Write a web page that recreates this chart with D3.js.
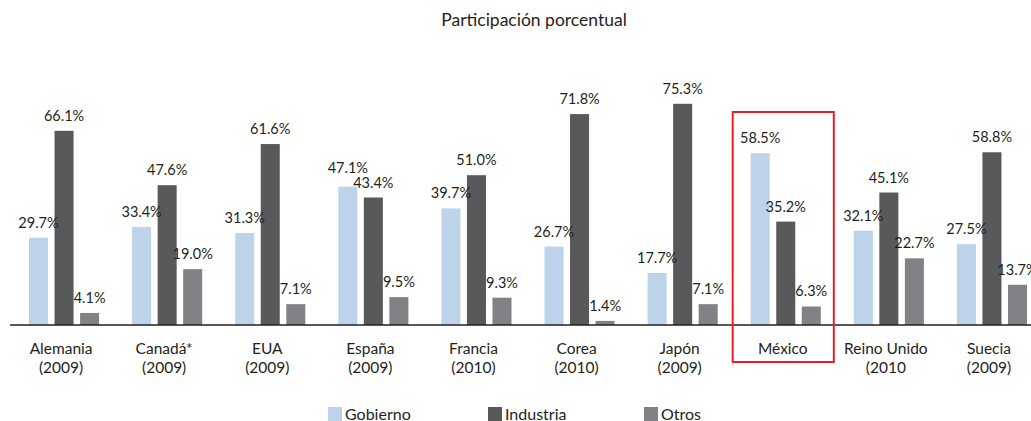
<!DOCTYPE html>
<html>
<head>
<meta charset="utf-8">
<script src="https://cdn.jsdelivr.net/npm/d3@7/dist/d3.min.js"></script>
<style>
  html, body { margin: 0; padding: 0; background: #fff; }
  svg { display: block; font-family: "Lato", "Noto Sans", sans-serif; }
</style>
</head>
<body>
<svg id="chart" width="1031" height="421"></svg>
<script>
// Participación porcentual del gasto en I+D por sector de financiamiento
const countries = ["Alemania", "Canadá*", "EUA", "España", "Francia", "Corea", "Japón", "México", "Reino Unido", "Suecia"];
const years = ["(2009)", "(2009)", "(2009)", "(2009)", "(2010)", "(2010)", "(2009)", "", "(2010", "(2009)"];
const series = ["Gobierno", "Industria", "Otros"];
const gobierno = [29.7, 33.4, 31.3, 47.1, 39.7, 26.7, 17.7, 58.5, 32.1, 27.5];
const industria = [66.1, 47.6, 61.6, 43.4, 51.0, 71.8, 75.3, 35.2, 45.1, 58.8];
const otros = [4.1, 19.0, 7.1, 9.5, 9.3, 1.4, 7.1, 6.3, 22.7, 13.7];
const highlighted = "México";
const title = "Participación porcentual";

const colors = { Gobierno: "#bdd3ea", Industria: "#58595b", Otros: "#808285" };
const textColor = "#231f20";

const svg = d3.select("#chart");
const W = 1031, baseY = 325;

const valuesBySeries = { Gobierno: gobierno, Industria: industria, Otros: otros };
const rows = countries.map((c, i) => ({
  country: c,
  year: years[i],
  values: series.map(s => ({ key: s, value: valuesBySeries[s][i] }))
}));

const x0 = d3.scaleBand().domain(countries).range([12.5, 1043.5])
  .paddingInner(0.32).paddingOuter(0.16);
const x1 = d3.scaleBand().domain(series).range([0, x0.bandwidth()])
  .paddingInner(0.255).paddingOuter(0);
const y = d3.scaleLinear().domain([0, 80]).range([baseY, 90]);

// title
svg.append("text")
  .attr("x", 534).attr("y", 26)
  .attr("text-anchor", "middle")
  .attr("font-size", 17.5)
  .attr("fill", textColor)
  .text(title);

// bars
const groups = svg.append("g").selectAll("g")
  .data(rows).join("g")
  .attr("transform", d => `translate(${x0(d.country)},0)`);

groups.selectAll("rect")
  .data(d => d.values).join("rect")
  .attr("x", d => x1(d.key))
  .attr("y", d => y(d.value))
  .attr("width", x1.bandwidth())
  .attr("height", d => y(0) - y(d.value))
  .attr("fill", d => colors[d.key]);

groups.selectAll("text.val")
  .data(d => d.values).join("text")
  .attr("class", "val")
  .attr("x", d => x1(d.key) + x1.bandwidth() / 2)
  .attr("y", d => y(d.value) - 10)
  .attr("text-anchor", "middle")
  .attr("font-size", 14.5)
  .attr("fill", textColor)
  .text(d => d3.format(".1f")(d.value) + "%");

// lift a value label when it collides with its neighbour's label
groups.each(function() {
  const labels = d3.select(this).selectAll("text.val").nodes();
  for (let k = 1; k < labels.length; k++) {
    const a = labels[k - 1], b = labels[k];
    const ba = a.getBBox(), bb = b.getBBox();
    const hOverlap = ba.x + ba.width > bb.x && bb.x + bb.width > ba.x;
    const vOverlap = ba.y + ba.height > bb.y && bb.y + bb.height > ba.y;
    if (hOverlap && vOverlap) {
      const upper = ba.y < bb.y ? a : b;
      const lower = upper === a ? b : a;
      const lb = lower.getBBox(), ub = upper.getBBox();
      const shift = (ub.y + ub.height) - lb.y + 2;
      d3.select(upper).attr("y", +d3.select(upper).attr("y") - shift + 4);
    }
  }
});

// baseline
svg.append("line")
  .attr("x1", 10).attr("x2", W)
  .attr("y1", baseY).attr("y2", baseY)
  .attr("stroke", "#231f20").attr("stroke-width", 1.3);

// category axis
const axis = svg.append("g")
  .attr("transform", `translate(-3,${baseY})`)
  .call(d3.axisBottom(x0).tickSize(0).tickSizeOuter(0));
axis.select(".domain").remove();
axis.selectAll(".tick text").each(function(c) {
  const t = d3.select(this);
  const i = countries.indexOf(c);
  t.text(null)
    .attr("y", 0).attr("dy", null)
    .attr("font-size", 15.5)
    .attr("font-family", "Lato, 'Noto Sans', sans-serif")
    .attr("fill", textColor);
  t.append("tspan").attr("x", 0).attr("y", 29).text(c);
  if (years[i]) t.append("tspan").attr("x", 0).attr("y", 48).text(years[i]);
});

// highlight box
const hx = x0(highlighted);
svg.append("rect")
  .attr("x", hx - 18).attr("y", 112)
  .attr("width", x0.bandwidth() + 31).attr("height", 250)
  .attr("fill", "none")
  .attr("stroke", "#e8202a").attr("stroke-width", 2);

// legend
const legendX = [328, 488, 644];
const legend = svg.append("g").selectAll("g")
  .data(series).join("g")
  .attr("transform", (d, i) => `translate(${legendX[i]},407)`);
legend.append("rect")
  .attr("width", 14).attr("height", 14)
  .attr("fill", d => colors[d]);
legend.append("text")
  .attr("x", 17).attr("y", 12.5)
  .attr("font-size", 16)
  .attr("fill", textColor)
  .text(d => d);
</script>
</body>
</html>
